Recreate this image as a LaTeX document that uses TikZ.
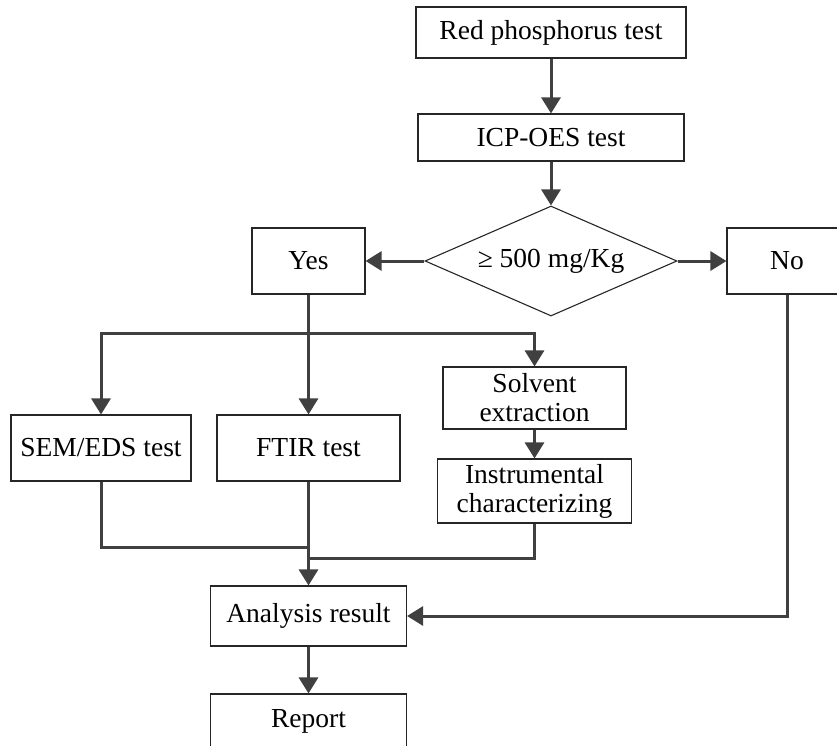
\documentclass[tikz,border=0pt]{standalone}
\usepackage{fontspec}
\setmainfont{Liberation Serif}
\usetikzlibrary{arrows.meta,shapes.geometric}

\begin{document}
\begin{tikzpicture}[x=1pt,y=-1pt,
        box/.style={draw=black!85,line width=1.1pt,inner sep=0pt,align=center,
            font=\fontsize{27.5}{29}\selectfont},
        flow/.style={draw=black!75,line width=3pt,-{Triangle[length=16pt,width=19pt]}},
        wire/.style={draw=black!75,line width=3pt}]
        \useasboundingbox (0,0) rectangle (837,745);
        \clip (0,0) rectangle (837,745);

        \node[box,minimum width=270pt,minimum height=51pt] (red) at (551,32.5) {Red phosphorus test};
        \node[box,minimum width=266pt,minimum height=47pt] (icp) at (551,137.5) {ICP-OES test};
        \node[box,diamond,aspect=2.3,minimum width=252pt,minimum height=110pt] (dec) at (551,261) {≥ 500 mg/Kg};
        \node[box,minimum width=113pt,minimum height=66pt] (yes) at (308.5,261) {Yes};
        \node[box,minimum width=120pt,minimum height=66pt] (no) at (787,261) {No};

        \node[box,minimum width=180pt,minimum height=66pt] (sem) at (101,448) {SEM/EDS test};
        \node[box,minimum width=183pt,minimum height=66pt] (ftir) at (308.5,448) {FTIR test};
        \node[box,minimum width=183pt,minimum height=62pt] (solv) at (534.5,398) {Solvent\\extraction};
        \node[box,minimum width=194pt,minimum height=64pt] (inst) at (534.5,491) {Instrumental\\characterizing};

        \node[box,minimum width=196pt,minimum height=60pt] (ana) at (308.5,616) {Analysis result};
        \node[box,minimum width=196pt,minimum height=54pt] (rep) at (308.5,721) {Report};

        \coordinate (branch) at (308.5,333);
        \coordinate (joinA) at (308.5,547);
        \coordinate (joinB) at (308.5,558);

        \draw[flow] (red) -- (icp);
        \draw[flow] (icp) -- (dec);
        \draw[flow] (dec) -- (yes);
        \draw[flow] (dec) -- (no);

        \draw[flow] (yes) -- (ftir);
        \draw[flow] (branch) -| (sem);
        \draw[flow] (branch) -| (solv);
        \draw[flow] (solv) -- (inst);

        \draw[wire] (sem) |- (joinA);
        \draw[wire] (inst) |- (joinB);
        \draw[flow] (ftir) -- (ana);
        \draw[flow] (no) |- (ana);
        \draw[flow] (ana) -- (rep);

    \end{tikzpicture}
\end{document}
